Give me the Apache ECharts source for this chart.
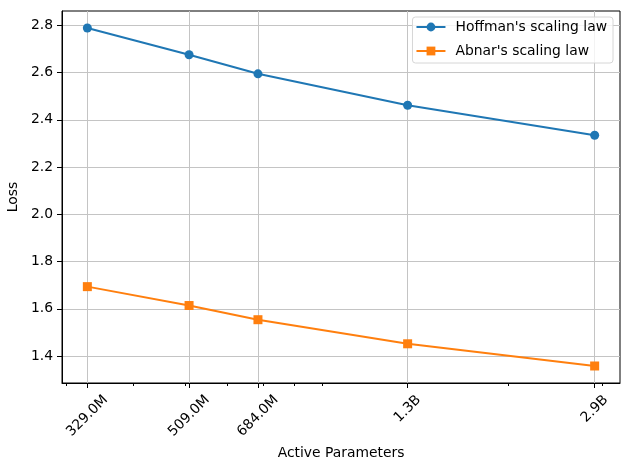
<!DOCTYPE html>
<html>
<head>
<meta charset="utf-8">
<script src="https://cdn.jsdelivr.net/npm/echarts@6/dist/echarts.min.js"></script>
<style>
html, body { margin: 0; padding: 0; background: #fff; }
#main { width: 630px; height: 470px; }
</style>
</head>
<body>
<div id="main"></div>
<script>
// active parameter counts (x, log scale) and their tick labels
var params = [329e6, 509e6, 684e6, 1.3e9, 2.9e9];
var paramLabels = ['329.0M', '509.0M', '684.0M', '1.3B', '2.9B'];
var minorTicks = [3e8, 4e8, 5e8, 6e8, 7e8, 8e8, 9e8, 2e9, 3e9];

// loss values
var hoffmanLoss = [2.789, 2.676, 2.595, 2.462, 2.335];
var abnarLoss = [1.694, 1.614, 1.554, 1.452, 1.358];

var yTicks = [1.4, 1.6, 1.8, 2.0, 2.2, 2.4, 2.6, 2.8];

var font = 'DejaVu Sans';
var fs = 13.89;

function pairs(xs, ys) {
    return xs.map(function (x, i) { return [x, ys[i]]; });
}

var myChart = echarts.init(document.getElementById('main'));
var option = {
    animation: false,
    backgroundColor: '#fff',
    textStyle: { fontFamily: font },
    grid: {
        left: 62, right: 10, top: 11, bottom: 87,
        show: true, borderColor: '#000', borderWidth: 1,
        containLabel: false,
        outerBoundsMode: 'none'
    },
    legend: {
        orient: 'vertical',
        right: 17, top: 17,
        padding: [3, 6, 5, 3],
        itemWidth: 29, itemHeight: 11, itemGap: 10,
        borderColor: '#d6d6d6', borderWidth: 1, borderRadius: 3,
        backgroundColor: 'rgba(255,255,255,0.8)',
        textStyle: { fontFamily: font, fontSize: fs, color: '#000', padding: [0, 0, 0, 5] },
        data: ["Hoffman's scaling law", "Abnar's scaling law"]
    },
    xAxis: [
        {
            type: 'log', logBase: 10,
            min: 2.951e8, max: 3.233e9,
            position: 'bottom',
            name: 'Active Parameters',
            nameLocation: 'middle', nameGap: 60,
            nameTextStyle: { fontFamily: font, fontSize: fs, color: '#000' },
            axisLine: { show: true, lineStyle: { color: '#000', width: 1 } },
            axisTick: { show: true, customValues: params, length: 5, lineStyle: { color: '#000', width: 1 } },
            axisLabel: {
                customValues: params,
                rotate: 45, align: 'center', verticalAlign: 'middle', margin: 33,
                fontFamily: font, fontSize: fs, color: '#000',
                formatter: function (v) {
                    var i = params.indexOf(v);
                    var t = i >= 0 ? paramLabels[i] : '';
                    return t.length <= 4 ? '{s|' + t + '}' : t;
                },
                rich: {
                    s: { fontFamily: font, fontSize: fs, color: '#000', padding: [0, 0, 10, 10] }
                }
            },
            splitLine: { show: true, lineStyle: { color: '#c4c4c4', width: 1 } },
            minorTick: { show: false },
            minorSplitLine: { show: false }
        },
        {
            type: 'log', logBase: 10,
            min: 2.951e8, max: 3.233e9,
            position: 'bottom',
            axisLine: { show: false },
            axisTick: { show: true, customValues: minorTicks, length: 3, lineStyle: { color: '#000', width: 1 } },
            axisLabel: { show: false },
            splitLine: { show: false }
        }
    ],
    yAxis: {
        type: 'value',
        min: 1.286, max: 2.861,
        name: 'Loss',
        nameLocation: 'middle', nameGap: 37, nameRotate: 90,
        nameTextStyle: { fontFamily: font, fontSize: fs, color: '#000' },
        axisLine: { show: true, lineStyle: { color: '#000', width: 1 } },
        axisTick: { show: true, customValues: yTicks, length: 5, lineStyle: { color: '#000', width: 1 } },
        axisLabel: {
            customValues: yTicks,
            margin: 9,
            fontFamily: font, fontSize: fs, color: '#000',
            formatter: function (v) { return v.toFixed(1); }
        },
        splitLine: { show: true, lineStyle: { color: '#c4c4c4', width: 1 } }
    },
    series: [
        {
            name: "Hoffman's scaling law",
            type: 'line',
            xAxisIndex: 0,
            data: pairs(params, hoffmanLoss),
            symbol: 'circle', symbolSize: 9,
            lineStyle: { color: '#1f77b4', width: 2 },
            itemStyle: { color: '#1f77b4' },
            emphasis: { disabled: true }
        },
        {
            name: "Abnar's scaling law",
            type: 'line',
            xAxisIndex: 0,
            data: pairs(params, abnarLoss),
            symbol: 'rect', symbolSize: 9,
            lineStyle: { color: '#ff7f0e', width: 2 },
            itemStyle: { color: '#ff7f0e' },
            emphasis: { disabled: true }
        }
    ]
};
myChart.setOption(option);
</script>
</body>
</html>
